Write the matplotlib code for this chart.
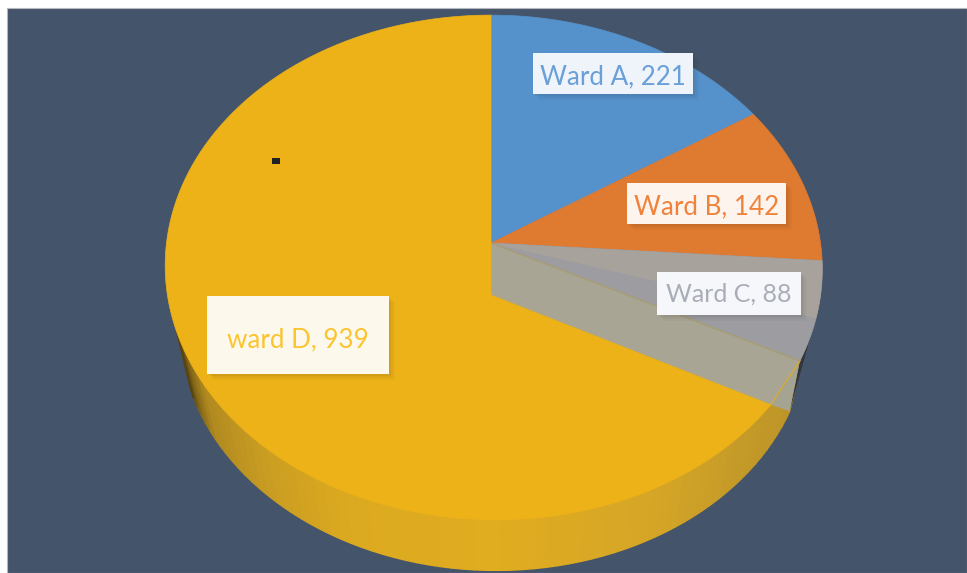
import numpy as np
import matplotlib
matplotlib.use("Agg")
import matplotlib.pyplot as plt
from matplotlib.patches import Polygon, Rectangle

wards = ["Ward A", "Ward B", "Ward C", "ward D"]
cases = [221, 142, 88, 939]
face_colors = ["#5591ca", "#df7a31", "#9c9ca1", "#ecb218"]
label_colors = ["#6a9fd8", "#f0833c", "#a9adb8", "#fcc430"]
box_colors = ["#eff4fa", "#fdf4ee", "#f6f7fa", "#fdf8ec"]

W, H = 967, 573
BG = "#44546a"
PANEL_LEFT, PANEL_TOP = 7, 8
CX, CY = 491, 243
MIDX = 493.5
BX, AY, K = 327, 250, 0.097
WALL_SCALE, WALL_CY = 0.955, 306
PALE_END = 127.5      # visual overlap of the grey wedge over the yellow one
INNER_DROP = 52       # drop of the inner cut wall seen through the grey wedge
WALL_RIGHT = 115
WALL_LEFT = 250

label_boxes = [(533, 53, 160, 41), (627, 183, 159, 41), (657, 272, 144, 43), (207, 296, 182, 78)]
label_dy = [3, 3, 1, 5]
label_sizes = [18.7, 18.7, 18.0, 18.7]


def rim(deg, scale=1.0, cy=CY):
    t = np.radians(np.asarray(deg, float))
    u, v = np.sin(t), np.cos(t)
    d = 1 + K * v
    return np.column_stack((MIDX + scale * BX * u / d - 2.5 * v, cy - scale * AY * v / d))


def sector(a, b):
    return np.vstack(([[CX, CY]], rim(np.linspace(a, b, 200))))


fig = plt.figure(figsize=(W / 100, H / 100), dpi=100, facecolor="white")
ax = fig.add_axes([0, 0, 1, 1])
ax.set_xlim(0, W)
ax.set_ylim(H, 0)
ax.axis("off")
ax.add_patch(Rectangle((PANEL_LEFT, PANEL_TOP), W - PANEL_LEFT, H - PANEL_TOP,
                       facecolor=BG, edgecolor="#b5b8bd", lw=0.8, zorder=0))

edges = np.cumsum([0] + cases) / sum(cases) * 360

# side wall of the disc, shaded along its length
stops = [(WALL_RIGHT, "#bd9428"), (135, "#c49a28"), (155, "#d6a626"), (180, "#e0ac20"),
         (205, "#dcaa20"), (222, "#c99c22"), (238, "#b08a20"), (246, "#7a5e16"), (WALL_LEFT, "#4d3c10")]
ang = np.linspace(WALL_RIGHT, WALL_LEFT, 70)
sa, sc = [s[0] for s in stops], [matplotlib.colors.to_rgb(s[1]) for s in stops]
for a0, a1 in zip(ang[:-1], ang[1:]):
    m = (a0 + a1) / 2
    col = [np.interp(m, sa, [c[i] for c in sc]) for i in range(3)]
    fine = np.linspace(a0, a1, 5)
    top = rim(fine)
    bot = rim(fine[::-1], WALL_SCALE, WALL_CY)
    ax.add_patch(Polygon(np.vstack((top, bot)), closed=True, facecolor=col, edgecolor=col, lw=1.0, zorder=1))

# dark sliver behind the grey wedge on the right
sl = np.vstack((rim(np.linspace(105, edges[3], 20)), rim([WALL_RIGHT], WALL_SCALE, WALL_CY)))
ax.add_patch(Polygon(sl, closed=True, facecolor="#33363c", edgecolor="none", zorder=1.5))

# top faces: blue, orange, grey
for i in range(3):
    ax.add_patch(Polygon(sector(edges[i], edges[i + 1]), closed=True, facecolor=face_colors[i],
                         edgecolor=face_colors[i], lw=0.5, zorder=2))

# brownish upper part of the grey wedge
ax.add_patch(Polygon(sector(edges[2], edges[2] + 13), closed=True, facecolor="#a8a29c",
                     edgecolor="none", zorder=2.05))

# pale translucent cut wall between the grey and yellow wedges
inner = [CX, CY + INNER_DROP]
pale = np.vstack(([[CX, CY]], rim([edges[3], PALE_END]), [inner]))
ax.add_patch(Polygon(pale, closed=True, facecolor="#a8a594", edgecolor="#a8a594", lw=0.5, zorder=2.1))
corner = np.vstack((rim([edges[3], PALE_END]), rim([WALL_RIGHT], WALL_SCALE, WALL_CY)))
ax.add_patch(Polygon(corner, closed=True, facecolor="#a5a392", edgecolor="none", zorder=2.1))
ax.plot(*np.vstack((rim([PALE_END]), rim([edges[3]]))).T, color="#d9ad2e", lw=0.9, zorder=2.2)
ax.plot(*np.vstack(([[CX, CY]], rim([edges[3]]))).T, color="#a89c72", lw=1.0, zorder=2.2)

# yellow top face, from its own dropped corner
yellow = np.vstack((rim(np.linspace(PALE_END, 360, 300)), [[CX, CY]], [inner]))
ax.add_patch(Polygon(yellow, closed=True, facecolor=face_colors[3],
                     edgecolor=face_colors[3], lw=0.5, zorder=2.3))

# small stray mark
ax.add_patch(Rectangle((272, 158), 8, 5.5, facecolor="#222222", edgecolor="none", zorder=3))

# data labels
for name, val, col, fill, box, dy, fs in zip(wards, cases, label_colors, box_colors, label_boxes, label_dy, label_sizes):
    x, y, w, h = box
    for off, al in ((6, 0.025), (4, 0.035), (2, 0.045)):
        ax.add_patch(Rectangle((x + off, y + off), w, h, facecolor="black", alpha=al,
                               edgecolor="none", zorder=3.5))
    ax.add_patch(Rectangle((x, y), w, h, facecolor=fill, edgecolor="none", zorder=4))
    ax.text(x + w / 2, y + h / 2 + dy, f"{name}, {val}", color=col, fontsize=fs,
            family="Lato", ha="center", va="center", zorder=5)

fig.savefig("out.png", dpi=100, facecolor="white")
